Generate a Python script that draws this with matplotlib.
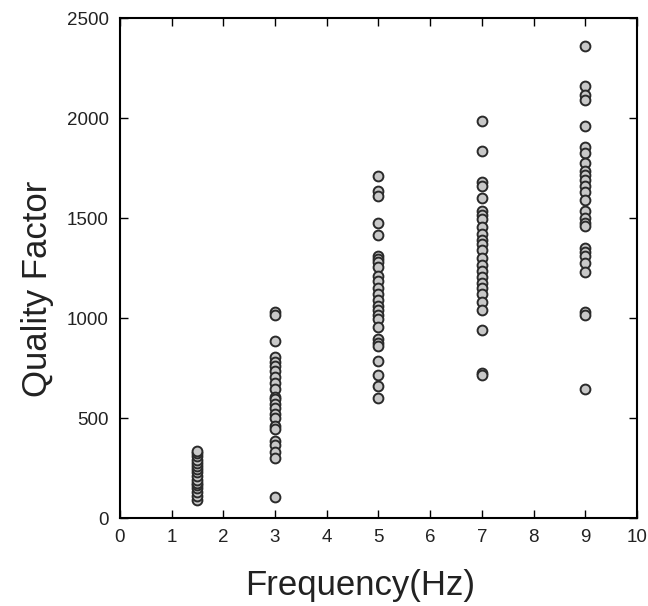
import numpy as np
import matplotlib
matplotlib.use('Agg')
import matplotlib.pyplot as plt

plt.rcParams['font.family'] = ['Liberation Sans', 'DejaVu Sans']

# 各频率下的品质因子
q_15 = [93, 110, 130, 150, 165, 175, 190, 210, 230, 245, 260, 275, 290, 310, 325, 338]
q_3 = [1033, 1017, 888, 807, 782, 763, 734, 705, 676, 647, 608, 598, 569, 550, 520,
       502, 463, 448, 386, 367, 332, 299, 106]
q_5 = [1712, 1637, 1612, 1475, 1417, 1313, 1297, 1280, 1255, 1212, 1187, 1149, 1120,
       1091, 1062, 1042, 1014, 994, 956, 898, 878, 859, 786, 718, 662, 602]
q_7 = [1985, 1834, 1680, 1660, 1602, 1535, 1515, 1496, 1458, 1419, 1390, 1371, 1342,
       1303, 1264, 1236, 1207, 1178, 1149, 1120, 1081, 1042, 940, 724, 714]
q_9 = [2363, 2162, 2114, 2089, 1959, 1857, 1828, 1776, 1737, 1718, 1689, 1660, 1631,
       1593, 1535, 1502, 1477, 1463, 1351, 1332, 1313, 1274, 1232, 1033, 1014, 645]

freqs = [1.5, 3, 5, 7, 9]
groups = [q_15, q_3, q_5, q_7, q_9]

fig = plt.figure(figsize=(6.48, 6.06), dpi=100)
ax = fig.add_axes([0.185, 0.145, 0.798, 0.825])

for f, q in zip(freqs, groups):
    ax.scatter(np.full(len(q), f), q, s=50, facecolor='#c8c8c8',
               edgecolor='#2a2a2a', linewidth=1.4, zorder=3)

ax.set_xlim(0, 10)
ax.set_ylim(0, 2500)
ax.set_xticks(range(0, 11))
ax.set_yticks(range(0, 2501, 500))
ax.tick_params(direction='in', top=True, right=True, length=6, width=1,
               labelsize=13.5, pad=8, labelcolor='#222222')
for s in ax.spines.values():
    s.set_linewidth(1.5)

ax.set_xlabel('Frequency(Hz)', fontsize=25, color='#222222', va='center')
ax.set_ylabel('Quality Factor', fontsize=25, color='#222222', va='center')
ax.xaxis.set_label_coords(0.464, -0.134)
ax.yaxis.set_label_coords(-0.159, 0.458)

plt.savefig('out.png', dpi=100)
